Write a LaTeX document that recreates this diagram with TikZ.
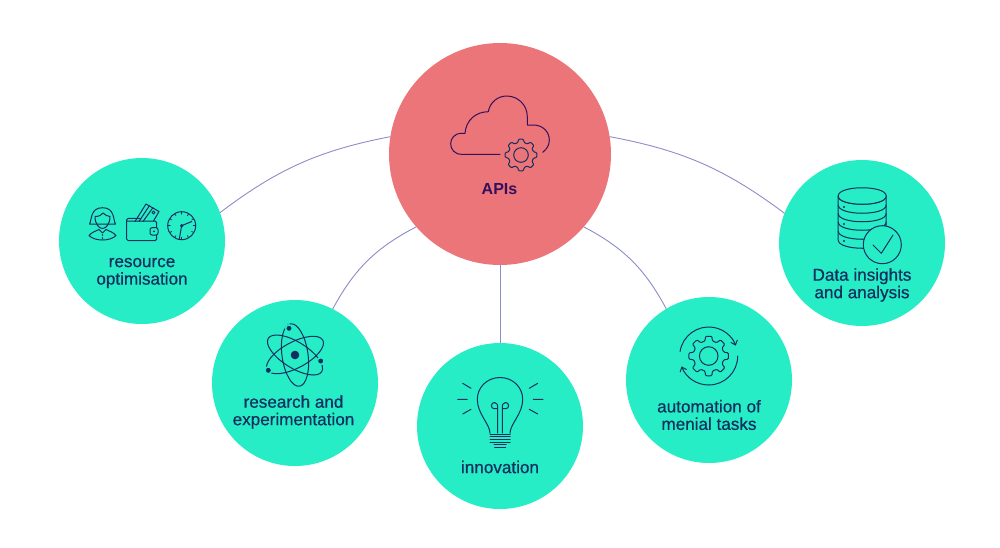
\documentclass[tikz,border=0pt]{standalone}
\usepackage{fontspec}
\setmainfont{Liberation Sans}
\newfontfamily\labelfont{Liberation Sans}[FakeBold=0.6]
\usepackage{xcolor}
\usetikzlibrary{
  positioning,
  arrows.meta
}
\definecolor{bubblegreen}{HTML}{27EDC6}
\definecolor{bubblered}{HTML}{EC757A}
\definecolor{inkblue}{HTML}{12305F}
\definecolor{inkpurple}{HTML}{330F5C}
\definecolor{linkblue}{HTML}{8C8CC8}
\tikzset{
  hub/.style={circle, fill=bubblered, minimum size=222pt, inner sep=0pt, outer sep=0pt},
  bubble/.style={circle, fill=bubblegreen, minimum size=166pt, inner sep=0pt, outer sep=0pt},
  tag/.style={text=inkblue, align=center, font=\labelfont\fontsize{17.1}{17.5}\selectfont},
  link/.style={draw=linkblue, line width=0.9pt},
  icon/.style={draw=inkblue, line width=1pt, line join=round, line cap=round}
}
% gear: x, y, outer radius, root radius, hole radius
\newcommand{\gearicon}[5]{
  \begin{scope}[shift={(#1,#2)}]
    \draw[icon, rounded corners=1pt] (-14:#4) \foreach \a in {0,45,...,315} {
        -- (\a-14:#4) -- (\a-9:#3) -- (\a+9:#3) -- (\a+14:#4)
      } -- cycle;
    \draw[icon] (0,0) circle (#5);
  \end{scope}
}
\begin{document}
\begin{tikzpicture}[x=1pt, y=-1pt]
    \useasboundingbox (0,0) rectangle (1000,547);

    % bubbles
    \node[hub] (api) at (500,154) {};
    \node[bubble] (res) at (142,241) {};
    \node[bubble] (lab) at (295,383) {};
    \node[bubble] (idea) at (500,426) {};
    \node[bubble] (auto) at (709,380) {};
    \node[bubble] (data) at (862,243) {};

    % connectors
    \draw[link] (res.20) to[bend left=13] (api.171);
    \draw[link] (lab.63) to[bend left=17] (api.221);
    \draw[link] (api.south) -- (idea.north);
    \draw[link] (api.319) to[bend left=17] (auto.121);
    \draw[link] (api.9) to[bend left=13] (data.159);

    % labels
    \node[text=inkpurple, font=\bfseries\fontsize{16}{18}\selectfont] (apitag) at (499.5,189) {APIs};
    \node[tag] (restag) at (142,273) {resource\\optimisation};
    \node[tag] (labtag) at (293.5,412) {research and\\experimentation};
    \node[tag] (ideatag) at (500,467) {innovation};
    \node[tag] (autotag) at (709,415) {automation of\\menial tasks};
    \node[tag] (datatag) at (862,285) {Data insights\\and analysis};

    % cloud
    \draw[icon, draw=inkpurple] (500,154.3) -- (461.7,154.3)
        .. controls (447,154.3) and (447,133.3) .. (461.7,133.3) -- (465,133.3)
        .. controls (466,120) and (476,111.7) .. (488.3,111.7)
        .. controls (490,102) and (498,96) .. (506.7,96)
        .. controls (518,96) and (527.3,105) .. (527.3,116.7) -- (527.3,125) -- (533.3,125)
        .. controls (543,125) and (549.3,132) .. (549.3,140)
        .. controls (549.3,145) and (547,149) .. (542.7,152.3);
    \begin{scope}[every path/.append style={draw=inkpurple}]
      \gearicon{521}{155}{16}{12.8}{7.3}
    \end{scope}

    % person
    \draw[icon] (89.5,224) .. controls (92,220) and (90,207.7) .. (102.5,207.7)
        .. controls (115,207.7) and (113,220) .. (115.5,224) -- (89.5,224);
    \draw[icon] (95,216.5) .. controls (99,216.5) and (102,215) .. (103,213)
        .. controls (105,215) and (108,216.5) .. (110,216.5)
        .. controls (110,224) and (106,228.5) .. (102.5,228.5)
        .. controls (99,228.5) and (95,224) .. (95,216.5);
    \draw[icon] (89,235.5) .. controls (92,232) and (96,231) .. (99,229.5)
        -- (102.5,233) -- (106,229.5)
        .. controls (109,231) and (113,232) .. (116,235.5)
        .. controls (110,241.5) and (95,241.5) .. (89,235.5);
    \fill[inkblue] (102.5,235) circle (0.8) (102.5,238) circle (0.8);

    % wallet
    \draw[icon] (135,221.5) -- (146,204) -- (159,211.5) -- (153.5,221);
    \draw[icon] (139,221.5) -- (149.5,205.5) (143,221.5) -- (153,207.5);
    \draw[icon] (153.5,212.5) circle (1.5);
    \draw[icon, rounded corners=1.5pt] (140,218.3) -- (126.7,218.3) -- (126.7,240.7) -- (156.7,240.7) -- (156.7,235)
        (156.7,227.7) -- (156.7,221) -- (153,221) -- (127,221);
    \draw[icon, rounded corners=2pt] (158,227.7) -- (150,227.7) -- (150,235) -- (158,235) -- cycle;
    \fill[inkblue] (154,231.3) circle (1);

    % clock
    \draw[icon] (181.7,225.7) circle (14);
    \foreach \a in {0,30,...,330} {
      \draw[icon, line width=0.7pt] (181.7,225.7) ++(\a:14) -- ++(\a:-2.5);
    }
    \draw[icon] (181.7,225.7) circle (1.2);
    \draw[icon] (182.8,225.2) -- (191.7,221.5);
    \draw[icon] (181.4,227) -- (179.3,239);

    % atom
    \draw[icon, rotate around={28:(295,355)}] (295,355) ellipse (31.5 and 13);
    \draw[icon, rotate around={-32:(295,355)}] (295,355) ellipse (31.5 and 13);
    \draw[icon, rotate around={98:(295,355)}] (295,355) ellipse (31.5 and 13);
    \fill[inkblue] (295,355) circle (4.3);
    \filldraw[fill=inkblue, draw=bubblegreen, line width=1.5pt] (289,328.3) circle (3.4) (320.7,361) circle (3.4) (268.3,370.3) circle (3.4);

    % bulb
    \draw[icon] (490,433.3) .. controls (490,424) and (477.3,414) .. (477.3,399.3)
        .. controls (477.3,387) and (487.5,377.5) .. (500,377.5)
        .. controls (512.5,377.5) and (522.7,387) .. (522.7,399.3)
        .. controls (522.7,414) and (510,424) .. (510,433.3);
    \draw[icon] (497.7,433) -- (497.7,408.5) -- (494,408.7) .. controls (490.5,408.5) and (490.5,402.5) .. (494.5,402.5)
        .. controls (497,402.5) and (498,405) .. (497.7,408.5);
    \draw[icon] (502.3,433) -- (502.3,408.5) -- (506,408.7) .. controls (509.5,408.5) and (509.5,402.5) .. (505.5,402.5)
        .. controls (503,402.5) and (502,405) .. (502.3,408.5);
    \foreach \y in {434.3,436.9,439.5,442.1} {
      \draw[icon] (490,\y) -- (510,\y);
    }
    \draw[icon] (494,444.7) -- (506,444.7) (494.5,447.2) -- (505.5,447.2);
    \draw[icon] (462.7,383.3) -- (471,388.3) (457.7,399.3) -- (467.3,399.3) (462.7,414) -- (471,409.3);
    \draw[icon] (529.3,388.3) -- (537.7,383.3) (533.3,399.3) -- (543,399.3) (529.3,409.3) -- (537.7,414);

    % gear with two arrows
    \gearicon{708.7}{356}{20}{15.5}{9.3}
    \draw[icon, -{Straight Barb[length=4pt,width=7pt]}] (708.7,356) ++(189:29) arc (189:339:29);
    \draw[icon, -{Straight Barb[length=4pt,width=7pt]}] (708.7,356) ++(0:29) arc (0:159:29);

    % database
    \draw[icon] (838.2,196) -- (838.2,240) .. controls (838.2,251) and (886.2,251) .. (886.2,240) -- (886.2,196);
    \foreach \y/\h in {196/9, 213.5/8.5, 231/0} {
      \draw[icon] (838.2,\y+\h) .. controls (838.2,\y+\h+11) and (886.2,\y+\h+11) .. (886.2,\y+\h);
    }
    \draw[icon] (838.2,196) .. controls (838.2,207) and (886.2,207) .. (886.2,196);
    \draw[icon] (838.2,213.5) .. controls (838.2,224.5) and (886.2,224.5) .. (886.2,213.5);
    \draw[icon, fill=bubblegreen] (838.2,196) .. controls (838.2,185) and (886.2,185) .. (886.2,196)
        .. controls (886.2,207) and (838.2,207) .. (838.2,196);
    \fill[inkblue] (844,207) circle (1.1) (844,224) circle (1.1) (844,241) circle (1.1);
    \draw[icon, fill=bubblegreen] (882.3,244.7) circle (19);
    \draw[icon] (873,245) -- (881.3,253.3) -- (893,235);
\end{tikzpicture}
\end{document}
